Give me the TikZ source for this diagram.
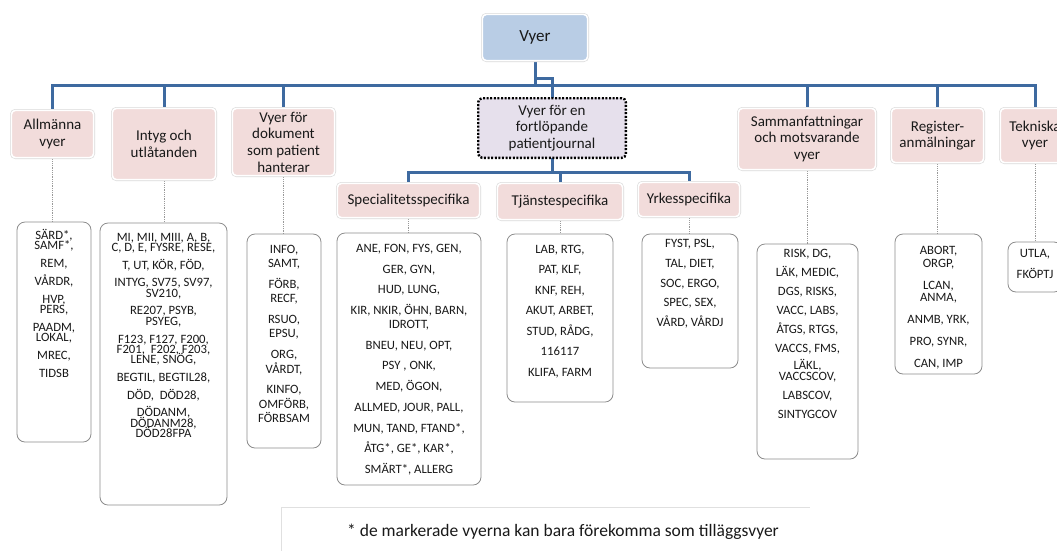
\documentclass[tikz,border=0pt]{standalone}
\usepackage{fontspec}
\setmainfont{Carlito}
\usepackage{tikz}
\usetikzlibrary{positioning, backgrounds}
\definecolor{VyBlue}{RGB}{185,205,229}
\definecolor{VyPink}{RGB}{242,220,219}
\definecolor{VyLilac}{RGB}{230,224,236}
\definecolor{VyLine}{RGB}{62,106,160}
\definecolor{VyText}{RGB}{25,25,25}
\setlength{\lineskiplimit}{-20pt}

\begin{document}
\begin{tikzpicture}[x=1pt, y=-1pt,
    hdr/.style={rectangle, rounded corners=4pt, fill=VyPink, draw=white, line width=1.6pt,
                preaction={draw=black!15, line width=2.8pt},
                inner sep=0pt, outer sep=0pt, align=center, text=VyText,
                font=\fontsize{15}{16.7}\selectfont},
    jour/.style={rectangle, rounded corners=4pt, fill=VyLilac, draw=black, line width=2.4pt,
                 dash pattern=on 2pt off 1.6pt, inner sep=0pt, outer sep=0pt,
                 align=center, text=VyText, font=\fontsize{15}{16.7}\selectfont},
    lbox/.style={rectangle, rounded corners=8pt, draw=black!45, line width=0.8pt,
                 fill=white, inner sep=0pt, outer sep=0pt},
    ltxt/.style={align=center, inner sep=0pt, text=VyText,
                 font={\fontsize{12.7}{#1}\selectfont}},
    bus/.style={draw=VyLine, line width=3pt},
    link/.style={draw=black!40, line width=0.8pt, densely dotted}
  ]
  \useasboundingbox (0,0) rectangle (1057,550);

  % top node
  \node[hdr, fill=VyBlue, minimum width=105.2pt, minimum height=46.2pt,
        font=\fontsize{17}{20}\selectfont] (top) at (535,37.5) {Vyer};

  % first level
  \node[hdr, minimum width=82.2pt,  minimum height=47.2pt] (hAll) at (52.5,134) {Allmänna\\vyer};
  \node[hdr, minimum width=103.2pt, minimum height=71.2pt] (hInt) at (164,144) {Intyg och\\utlåtanden};
  \node[hdr, minimum width=102.2pt, minimum height=67.2pt] (hDok) at (283.5,142)
        {Vyer för\\dokument\\som patient\\hanterar};
  \node[jour, minimum width=147.6pt, minimum height=59.6pt] (hJour) at (552,128)
        {Vyer för en\\fortlöpande\\patientjournal};
  \node[hdr, minimum width=137.2pt, minimum height=61.2pt] (hSam) at (807,139)
        {Sammanfattningar\\och motsvarande\\vyer};
  \node[hdr, minimum width=92.2pt,  minimum height=54.2pt] (hReg) at (937.5,135.5) {Register-\\anmälningar};
  \node[hdr, minimum width=69.2pt,  minimum height=54.2pt] (hTek) at (1035,135.5) {Tekniska\\vyer};

  % second level under the journal
  \node[hdr, minimum width=142.2pt, minimum height=34.2pt] (hSpec) at (408.5,200.5) {Specialitetsspecifika};
  \node[hdr, minimum width=125.2pt, minimum height=36.2pt] (hTj)   at (560,201.5)   {Tjänstespecifika};
  \node[hdr, minimum width=101.2pt, minimum height=34.2pt] (hYrk)  at (689,199.5)   {Yrkesspecifika};

  % lists
  \node[lbox, minimum width=74pt,  minimum height=220pt] (lAll)  at (54,332)     {};
  \node[lbox, minimum width=127pt, minimum height=282pt] (lInt)  at (163.5,364)  {};
  \node[lbox, minimum width=74pt,  minimum height=214pt] (lDok)  at (284,341)    {};
  \node[lbox, minimum width=144pt, minimum height=252pt] (lSpec) at (409,359)    {};
  \node[lbox, minimum width=106pt, minimum height=168pt] (lTj)   at (560,318)    {};
  \node[lbox, minimum width=96pt,  minimum height=134pt] (lYrk)  at (690,301)    {};
  \node[lbox, minimum width=101pt, minimum height=215pt] (lSam)  at (807.5,351.5) {};
  \node[lbox, minimum width=87pt,  minimum height=140pt] (lReg)  at (938.5,304)  {};
  \node[lbox, minimum width=54pt,  minimum height=50pt]  (lTek)  at (1035,267)   {};

  \node[ltxt=10.3, below=7pt of lAll.north] (tAll)
        {SÄRD*,\\SAMF*,\\[7.5pt]REM,\\[7.5pt]VÅRDR,\\[7.5pt]HVP,\\PERS,\\[7.5pt]PAADM,\\LOKAL,\\[7.5pt]MREC,\\[7.5pt]TIDSB};
  \node[ltxt=10.4, below=9.7pt of lInt.north] (tInt)
        {MI, MII, MIII, A, B,\\C, D, E, FYSRE, RESE,\\[7.3pt]T, UT, KÖR, FÖD,\\[7.3pt]INTYG, SV75, SV97,\\SV210,\\[7.3pt]%
         RE207, PSYB,\\PSYEG,\\[7.3pt]F123, F127, F200,\\F201,\ \ F202, F203,\\LENE, SNÖG,\\[7.3pt]%
         BEGTIL, BEGTIL28,\\[7.3pt]DÖD,\ \ DÖD28,\\[7.3pt]DÖDANM,\\DÖDANM28,\\DÖD28FPA};
  \node[ltxt=14.3, below=11pt of lDok.north] (tDok)
        {INFO,\\SAMT,\\[6.5pt]FÖRB,\\RECF,\\[6.5pt]RSUO,\\EPSU,\\[6.5pt]ORG,\\VÅRDT,\\[6.5pt]KINFO,\\OMFÖRB,\\FÖRBSAM};
  \node[ltxt=14, below=11pt of lSpec.north] (tSpec)
        {ANE, FON, FYS, GEN,\\[6.7pt]GER, GYN,\\[6.7pt]HUD, LUNG,\\[6.7pt]KIR, NKIR, ÖHN, BARN,\\IDROTT,\\[6.7pt]%
         BNEU, NEU, OPT,\\[6.7pt]PSY , ONK,\\[6.7pt]MED, ÖGON,\\[6.7pt]ALLMED, JOUR, PALL,\\[6.7pt]%
         MUN, TAND, FTAND*,\\[6.7pt]ÅTG*, GE*, KAR*,\\[6.7pt]SMÄRT*, ALLERG};
  \node[ltxt=20.5, below=11pt of lTj.north] (tTj)
        {LAB, RTG,\\PAT, KLF,\\KNF, REH,\\AKUT, ARBET,\\STUD, RÅDG,\\116117\\KLIFA, FARM};
  \node[ltxt=19.7, below=5.3pt of lYrk.north] (tYrk)
        {FYST, PSL,\\TAL, DIET,\\SOC, ERGO,\\SPEC, SEX,\\VÅRD, VÅRDJ};
  \node[ltxt=11, below=5pt of lSam.north] (tSam)
        {RISK, DG,\\[8pt]LÄK, MEDIC,\\[8pt]DGS, RISKS,\\[8pt]VACC, LABS,\\[8pt]ÅTGS, RTGS,\\[8pt]VACCS, FMS,\\[6.5pt]%
         LÄKL,\\VACCSCOV,\\[8pt]LABSCOV,\\[8pt]SINTYGCOV};
  \node[ltxt=12.7, below=12pt of lReg.north] (tReg)
        {ABORT,\\ORGP,\\[9.3pt]LCAN,\\ANMA,\\[9.3pt]ANMB, YRK,\\[9.3pt]PRO, SYNR,\\[9.3pt]CAN, IMP};
  \node[ltxt=20.7, below=7pt of lTek.north] (tTek) {UTLA,\\FKÖPTJ};

  % footnote
  \node[anchor=west, inner sep=0pt, text=VyText, font=\fontsize{17.5}{21}\selectfont] (note) at (347,532)
        {* de markerade vyerna kan bara förekomma som tilläggsvyer};
  \draw[black!12, line width=0.8pt] (281,560) |- (810,507);

  \begin{scope}[on background layer]
    \fill[white] (0,0) rectangle (1057,550);
    % connectors
    \coordinate (bus) at (535,85);
    \coordinate (sub) at (552,172);
    \draw[bus] (top.south) -- ++(0,18) -| (hJour.north);
    \draw[bus] (top.south) -- (bus);
    \draw[bus] (hAll.north) |- (bus) -| (hTek.north);
    \foreach \h in {hInt, hDok, hSam, hReg}
      \draw[bus] (\h.north) -- (\h.north |- bus);
    \draw[bus] (hJour.south) -- (sub);
    \draw[bus] (hSpec.north) |- (sub) -| (hYrk.north);
    \draw[bus] (hTj.north) -- (hTj.north |- sub);
    \foreach \h/\l in {hAll/lAll, hInt/lInt, hDok/lDok, hSpec/lSpec, hTj/lTj,
                       hYrk/lYrk, hSam/lSam, hReg/lReg, hTek/lTek}
      \draw[link] (\h.south) -- (\h.south |- \l.north);
  \end{scope}
\end{tikzpicture}
\end{document}
